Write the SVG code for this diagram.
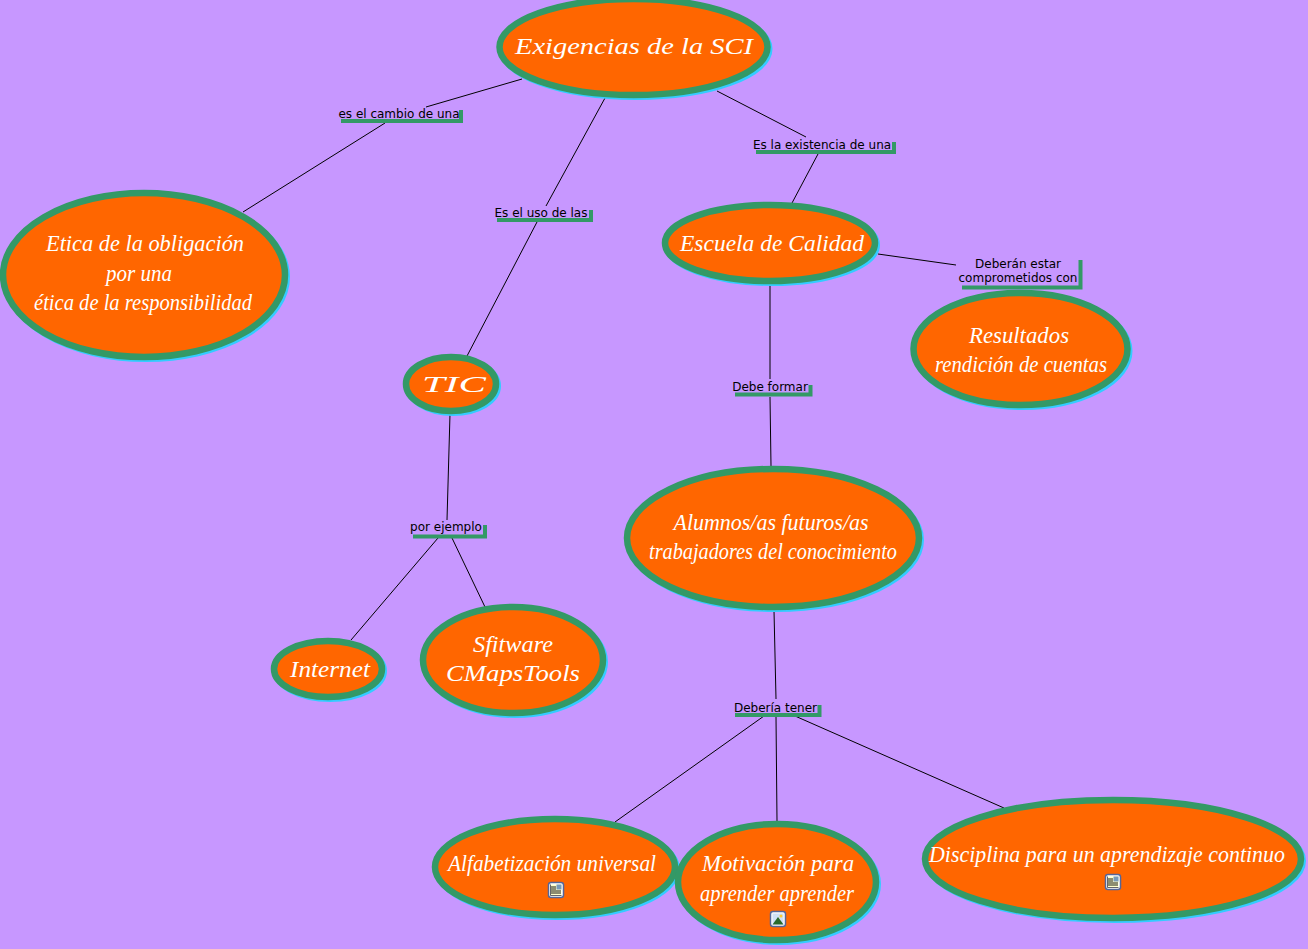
<svg xmlns="http://www.w3.org/2000/svg" width="1308" height="949" viewBox="0 0 1308 949">
<style>
.bg{fill:#c797ff}
.c line{stroke:#000;stroke-width:1}
.s{fill:none;stroke:#33ccff;stroke-width:6}
.e{fill:#ff6600;stroke:#339966;stroke-width:6.500}
.t{font-family:"Liberation Serif",serif;font-style:italic;font-size:24px;fill:#fff;text-anchor:middle}
.l{font-family:"DejaVu Sans",sans-serif;font-size:12px;fill:#000;text-anchor:middle}
.u{fill:none;stroke:#339966;stroke-width:4}
</style>
<defs>
<g id="doc"><rect x="-7.500" y="-7.500" width="15" height="15" rx="2.500" fill="#fff" stroke="#556699" stroke-width="1.500"/><rect x="-5.500" y="-5.500" width="11" height="11" fill="#ffffcc"/><path d="M-5-3H0M-5-1H0M-5 1H5M-5 3H5" stroke="#000" stroke-width=".9" fill="none"/><rect x="0.500" y="-5.500" width="5" height="5" fill="#7799bb"/><path d="M-5.500-5.500V5.500H5.500" stroke="#223" stroke-width=".7" fill="none"/></g>
<g id="pic"><rect x="-7.500" y="-7.500" width="15" height="15" rx="2.500" fill="#fff" stroke="#556699" stroke-width="1.500"/><rect x="-5.500" y="-5.500" width="11" height="11" fill="#cfe0f5"/><path d="M-5.500 5.500L0-2L5.500 5.500Z" fill="#2a6a2a"/><circle cx="3" cy="-3" r="1.500" fill="#fc3"/></g>
</defs>
<rect class="bg" width="1308" height="949"/>
<g id="connectors" class="c">
<line x1="522" y1="79" x2="426" y2="107"/>
<line x1="385" y1="123" x2="243" y2="212"/>
<line x1="605" y1="98" x2="546" y2="206"/>
<line x1="537" y1="222" x2="467" y2="356"/>
<line x1="717" y1="91" x2="806" y2="137"/>
<line x1="818" y1="154" x2="792" y2="203"/>
<line x1="878" y1="254" x2="956" y2="265"/>
<line x1="770" y1="285" x2="770" y2="379"/>
<line x1="770" y1="397" x2="771" y2="466"/>
<line x1="450" y1="414" x2="447" y2="520"/>
<line x1="438" y1="538" x2="351" y2="640"/>
<line x1="452" y1="538" x2="485" y2="607"/>
<line x1="774" y1="611" x2="776" y2="699"/>
<line x1="764" y1="716" x2="615" y2="822"/>
<line x1="776" y1="717" x2="777" y2="821"/>
<line x1="795" y1="716" x2="1004" y2="808"/>
</g>
<g id="n-exigencias"><ellipse class="s" cx="635.500" cy="49" rx="134" ry="48"/><ellipse class="e" cx="633.500" cy="47" rx="134" ry="48"/><text class="t" x="634" y="54" textLength="238" lengthAdjust="spacingAndGlyphs">Exigencias de la SCI</text></g>
<g id="n-etica"><ellipse class="s" cx="146" cy="277" rx="141" ry="82"/><ellipse class="e" cx="144" cy="275" rx="141" ry="82"/><text class="t" x="145" y="251" textLength="198" lengthAdjust="spacingAndGlyphs">Etica de la obligación</text><text class="t" x="139" y="281" textLength="66" lengthAdjust="spacingAndGlyphs">por una</text><text class="t" x="143" y="310" textLength="218" lengthAdjust="spacingAndGlyphs">ética de la responsibilidad</text></g>
<g id="n-tic"><ellipse class="s" cx="453" cy="386" rx="45" ry="27"/><ellipse class="e" cx="451" cy="384" rx="45" ry="27"/><text class="t" x="454" y="392" textLength="64" lengthAdjust="spacingAndGlyphs">TIC</text></g>
<g id="n-escuela"><ellipse class="s" cx="772" cy="245" rx="105" ry="38"/><ellipse class="e" cx="770" cy="243" rx="105" ry="38"/><text class="t" x="772" y="251" textLength="184" lengthAdjust="spacingAndGlyphs">Escuela de Calidad</text></g>
<g id="n-resultados"><ellipse class="s" cx="1022.500" cy="351" rx="107" ry="56"/><ellipse class="e" cx="1020.500" cy="349" rx="107" ry="56"/><text class="t" x="1019" y="343" textLength="100" lengthAdjust="spacingAndGlyphs">Resultados</text><text class="t" x="1021" y="372" textLength="172" lengthAdjust="spacingAndGlyphs">rendición de cuentas</text></g>
<g id="n-alumnos"><ellipse class="s" cx="775" cy="540" rx="146" ry="69"/><ellipse class="e" cx="773" cy="538" rx="146" ry="69"/><text class="t" x="771" y="530" textLength="195" lengthAdjust="spacingAndGlyphs">Alumnos/as futuros/as</text><text class="t" x="773" y="559" textLength="248" lengthAdjust="spacingAndGlyphs">trabajadores del conocimiento</text></g>
<g id="n-internet"><ellipse class="s" cx="330" cy="671" rx="54" ry="28"/><ellipse class="e" cx="328" cy="669" rx="54" ry="28"/><text class="t" x="330" y="677" textLength="80" lengthAdjust="spacingAndGlyphs">Internet</text></g>
<g id="n-sfitware"><ellipse class="s" cx="515" cy="662" rx="90" ry="53"/><ellipse class="e" cx="513" cy="660" rx="90" ry="53"/><text class="t" x="513" y="652" textLength="80" lengthAdjust="spacingAndGlyphs">Sfitware</text><text class="t" x="513" y="681" textLength="134" lengthAdjust="spacingAndGlyphs">CMapsTools</text></g>
<g id="n-alfabetizacion"><ellipse class="s" cx="557" cy="869" rx="120" ry="48"/><ellipse class="e" cx="555" cy="867" rx="120" ry="48"/><text class="t" x="552" y="871" textLength="208" lengthAdjust="spacingAndGlyphs">Alfabetización universal</text><use href="#doc" x="556" y="890"/></g>
<g id="n-motivacion"><ellipse class="s" cx="779" cy="884" rx="99" ry="58"/><ellipse class="e" cx="777" cy="882" rx="99" ry="58"/><text class="t" x="778" y="871" textLength="152" lengthAdjust="spacingAndGlyphs">Motivación para</text><text class="t" x="777" y="901" textLength="154" lengthAdjust="spacingAndGlyphs">aprender aprender</text><use href="#pic" x="778" y="919"/></g>
<g id="n-disciplina"><ellipse class="s" cx="1115" cy="861" rx="188" ry="59"/><ellipse class="e" cx="1113" cy="859" rx="188" ry="59"/><text class="t" x="1107" y="862" textLength="356" lengthAdjust="spacingAndGlyphs">Disciplina para un aprendizaje continuo</text><use href="#doc" x="1113" y="882"/></g>
<g id="l-cambio"><path class="u" d="M341 121H461V110"/><text class="l" x="399" y="118">es el cambio de una</text></g>
<g id="l-uso"><path class="u" d="M497 220H591V210"/><text class="l" x="541" y="217">Es el uso de las</text></g>
<g id="l-existencia"><path class="u" d="M756 152H894V142"/><text class="l" x="822" y="149">Es la existencia de una</text></g>
<g id="l-deberan"><path class="u" d="M962 287.500H1080.500V260"/><text class="l" x="1018" y="268">Deberán estar</text><text class="l" x="1018" y="282">comprometidos con</text></g>
<g id="l-formar"><path class="u" d="M735 394.500H810.500V385"/><text class="l" x="770" y="391">Debe formar</text></g>
<g id="l-ejemplo"><path class="u" d="M413 536.500H485V525"/><text class="l" x="446" y="531">por ejemplo</text></g>
<g id="l-tener"><path class="u" d="M735 715H819.500V705"/><text class="l" x="775.500" y="712">Debería tener</text></g>
</svg>
